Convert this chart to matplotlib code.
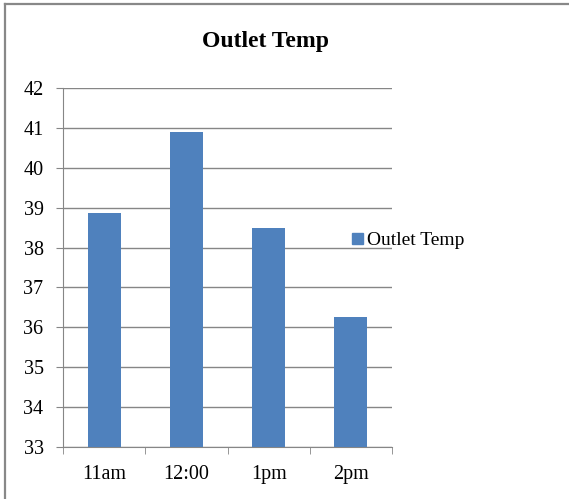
import matplotlib.pyplot as plt
from matplotlib.lines import Line2D
from matplotlib.patches import Patch

# hourly outlet temperature readings
times = ["11am", "12:00", "1pm", "2pm"]
outlet_temp = [38.86, 40.89, 38.50, 36.27]

bar_color = "#4F81BD"
grid_color = "#868686"

plt.rcParams["font.family"] = ["Liberation Serif", "DejaVu Serif"]

fig = plt.figure(figsize=(5.69, 4.99), dpi=100)
ax = fig.add_axes([63 / 569, 1 - 447 / 499, (392 - 63) / 569, (447 - 88) / 499])

x = range(len(times))
ax.bar(x, outlet_temp, width=0.4, color=bar_color, zorder=3)

ax.set_xlim(-0.5, len(times) - 0.5)
ax.set_ylim(33, 42)
ax.set_yticks(range(33, 43))
ax.yaxis.grid(True, color=grid_color, linewidth=1.0, zorder=0)

ax.set_xticks(list(x))
ax.set_xticklabels(times)
ax.set_xticks([i - 0.5 for i in range(len(times) + 1)], minor=True)
ax.tick_params(axis="x", which="major", length=0, pad=13, labelsize=14.5)
ax.tick_params(axis="x", which="minor", length=5, color=grid_color, direction="out")
ax.tick_params(axis="y", length=5, color=grid_color, pad=9, labelsize=14.5)

for side in ("top", "right"):
    ax.spines[side].set_visible(False)
for side in ("left", "bottom"):
    ax.spines[side].set_color(grid_color)

fig.text(266 / 569, 1 - 42 / 499, "Outlet Temp", ha="center", va="center",
         fontsize=17, fontweight="bold")

fig.legend(handles=[Patch(color=bar_color, label="Outlet Temp")],
           loc="center left", bbox_to_anchor=(352 / 569, 1 - 241 / 499),
           frameon=False, fontsize=14, handlelength=0.55, handleheight=0.55,
           handletextpad=0.2, borderpad=0, borderaxespad=0)

# outer chart frame (left and top edges)
fig.add_artist(Line2D([4.5 / 569, 4.5 / 569], [0, 1 - 3.5 / 499], color="#888888",
                      linewidth=1.6, transform=fig.transFigure))
fig.add_artist(Line2D([4.5 / 569, 1], [1 - 3.5 / 499, 1 - 3.5 / 499], color="#888888",
                      linewidth=1.6, transform=fig.transFigure))

fig.savefig("out.png", dpi=100)
